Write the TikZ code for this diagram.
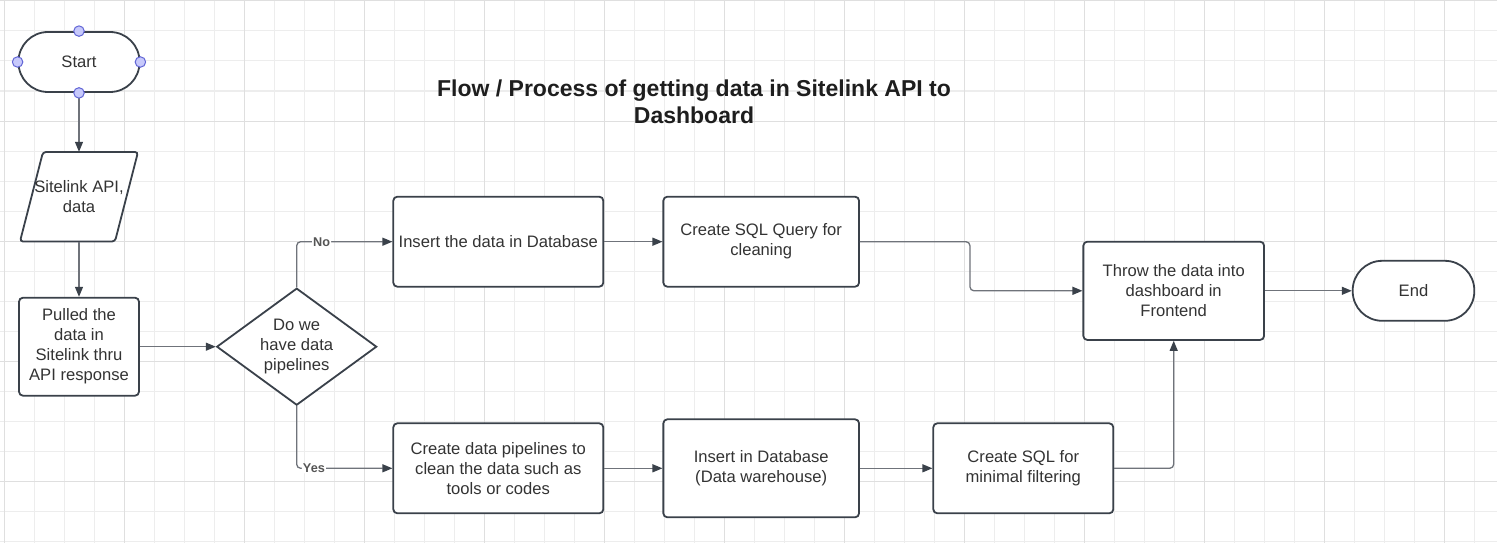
\documentclass[tikz,border=0pt]{standalone}
\usepackage{fontspec}
\setmainfont{Liberation Sans}
\usetikzlibrary{arrows.meta,shapes.geometric}
\definecolor{gridminor}{HTML}{EDEDED}
\definecolor{gridmajor}{HTML}{DFDFDF}
\definecolor{edgec}{HTML}{3A414A}
\definecolor{connc}{HTML}{6F737A}
\definecolor{txtc}{HTML}{333333}
\definecolor{lblc}{HTML}{555555}
\definecolor{titlec}{HTML}{1E1E1E}
\definecolor{ptfill}{HTML}{C7C9FB}
\definecolor{ptdraw}{HTML}{6266D6}
\begin{document}
\begin{tikzpicture}[x=1pt,y=-1pt,
  bodyfont/.style={font=\fontsize{16.6}{20}\selectfont},
  box/.style={draw=edgec, line width=1.8pt, rounded corners=4pt, fill=white, text=txtc, align=center, bodyfont, inner sep=0pt},
  term/.style={draw=edgec, line width=1.8pt, rounded corners=29.5pt, fill=white, text=txtc, bodyfont, minimum width=121pt, minimum height=60pt, inner sep=0pt},
  conn/.style={draw=connc, line width=1.3pt, rounded corners=4pt, -{Triangle[length=10pt,width=8pt,color=edgec]}},
  lbl/.style={fill=white, inner sep=1pt, text=lblc, font=\bfseries\fontsize{12.7}{14}\selectfont},
  cpt/.style={circle, fill=ptfill, draw=ptdraw, line width=1pt, minimum size=10.5pt, inner sep=0pt}
]
\useasboundingbox (0,0) rectangle (1497,543);
\fill[white] (0,0) rectangle (1497,543);
% grid
\foreach \i in {0,...,49} \draw[gridminor, line width=1pt] ({4.3+30*\i},0) -- ({4.3+30*\i},543);
\foreach \j in {0,...,18} \draw[gridminor, line width=1pt] (0,{1+30*\j}) -- (1497,{1+30*\j});
\foreach \i in {0,...,12} \draw[gridmajor, line width=1pt] ({4.3+120*\i},0) -- ({4.3+120*\i},543);
\foreach \j in {0,...,4} \draw[gridmajor, line width=1pt] (0,{1+120*\j}) -- (1497,{1+120*\j});

% title
\node[font=\bfseries\fontsize{23}{27}\selectfont, text=titlec, align=center] (title) at (694,102.1) {Flow / Process of getting data in Sitelink API to\\Dashboard};

% nodes
\node[term] (start) at (79,62) {Start};
\draw[draw=edgec, line width=1.8pt, rounded corners=3pt, fill=white] (43,152) -- (138,152) -- (115,241.5) -- (20,241.5) -- cycle;
\node[text=txtc, bodyfont, align=center, minimum width=95pt, minimum height=89.5pt, inner sep=0pt] (api) at (79,196.75) {Sitelink API,\\data};
\node[box, minimum width=120pt, minimum height=98pt] (pull) at (79,346.7) {Pulled the\\data in\\Sitelink thru\\API response};
\node[diamond, draw=edgec, line width=1.8pt, fill=white, aspect=1.37, minimum width=160pt, minimum height=117pt, inner sep=0pt] (dec) at (296.7,346.7) {};
\node[text=txtc, bodyfont, align=center] (dect) at (dec.center) {Do we\\have data\\pipelines};
\node[box, minimum width=210pt, minimum height=90pt] (ins) at (498.3,241.7) {Insert the data in Database};
\node[box, minimum width=195.7pt, minimum height=90pt] (sql) at (761.2,241.7) {Create SQL Query for\\cleaning};
\node[box, minimum width=210pt, minimum height=90pt] (pipe) at (498.3,468.3) {Create data pipelines to\\clean the data such as\\tools or codes};
\node[box, minimum width=195.7pt, minimum height=98pt] (dw) at (761.2,468.3) {Insert in Database\\(Data warehouse)};
\node[box, minimum width=180pt, minimum height=90pt] (flt) at (1023.3,468.3) {Create SQL for\\minimal filtering};
\node[box, minimum width=180.7pt, minimum height=98.3pt] (throw) at (1173.7,290.8) {Throw the data into\\dashboard in\\Frontend};
\node[term, minimum width=121.6pt] (end) at (1413.5,290.8) {End};

% connectors
\draw[conn] (start.south) -- (api.north);
\draw[conn] (api.south) -- (pull.north);
\draw[conn] (pull.east) -- (dec.west);
\draw[conn] (dec.north) |- node[lbl, pos=0.63] (lno) {No} (ins.west);
\draw[conn] (dec.south) |- node[lbl, pos=0.59] (lyes) {Yes} (pipe.west);
\draw[conn] (ins.east) -- (sql.west);
\draw[conn] (sql.east) -- ++(110,0) |- (throw.west);
\draw[conn] (pipe.east) -- (dw.west);
\draw[conn] (dw.east) -- (flt.west);
\draw[conn] (flt.east) -| (throw.south);
\draw[conn] (throw.east) -- (end.west);

% connection points on Start
\node[cpt] (cpn) at (start.north) {};
\node[cpt] (cps) at (start.south) {};
\node[cpt] (cpw) at (start.west) {};
\node[cpt] (cpe) at (start.east) {};
\end{tikzpicture}
\end{document}
